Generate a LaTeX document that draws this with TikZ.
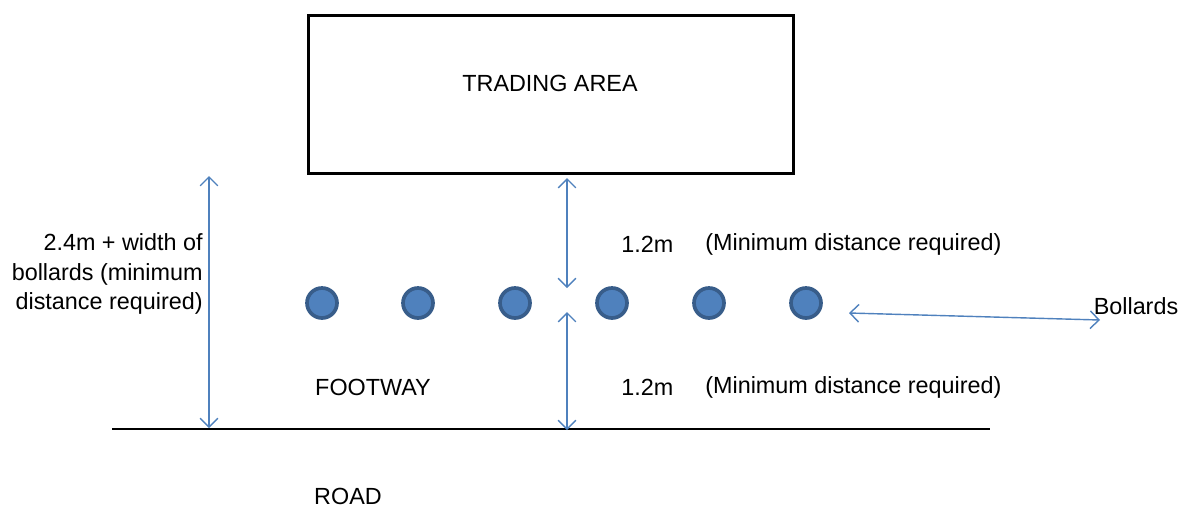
\documentclass[tikz,border=0pt]{standalone}
\usepackage{fontspec}
\setmainfont{Liberation Sans}
\usetikzlibrary{arrows.meta}
\definecolor{bollardfill}{HTML}{4F81BD}
\definecolor{bollardrim}{HTML}{385D8A}
\definecolor{dimblue}{HTML}{4F81BD}
\tikzset{
	txt/.style={inner sep=0pt, font=\fontsize{13.3}{17}\selectfont},
	bollard/.style={circle, fill=bollardfill, draw=bollardrim, line width=2.1pt, minimum size=0.6cm, inner sep=0pt},
	dim/.style={draw=dimblue, line width=0.8pt, {Straight Barb[length=5pt,width=10pt]}-{Straight Barb[length=5pt,width=10pt]}}
}
\begin{document}
\begin{tikzpicture}[x=0.02cm, y=-0.02cm]
	\useasboundingbox (0,0) rectangle (1187,508);
	
	%trading area
	\node[draw, line width=1.7pt, minimum width=9.7cm, minimum height=3.18cm, inner sep=0pt] (area) at (551,94.5){};
	\node[txt] (areatext) at (550,83){TRADING AREA};
	
	%road edge
	\coordinate (roadL) at (112,429);
	\coordinate (roadR) at (990,429);
	\draw[line width=1.1pt] (roadL) -- (roadR);
	\node[txt] (footway) at (373,387){FOOTWAY};
	\node[txt] (road) at (348,496){ROAD};
	
	%bollards
	\foreach \i/\x in {1/322, 2/418, 3/515, 4/612, 5/709, 6/806}{
		\node[bollard] (b\i) at (\x,303){};
	}
	
	%distances
	\coordinate (up1) at (567,178);
	\coordinate (up2) at (567,288);
	\coordinate (lo1) at (567,312);
	\coordinate (lo2) at (567,430);
	\draw[dim] (up1) -- (up2);
	\draw[dim] (lo1) -- (lo2);
	\node[txt, anchor=west] (upm) at (621,244){1.2m};
	\node[txt, anchor=west] (upreq) at (705,244){(Minimum distance required)};
	\node[txt, anchor=west] (lom) at (621,387){1.2m};
	\node[txt, anchor=west] (loreq) at (705,387){(Minimum distance required)};
	
	\coordinate (tot1) at (209,176);
	\coordinate (tot2) at (209,428);
	\draw[dim] (tot1) -- (tot2);
	\node[txt, anchor=east, align=right] (total) at (203,274){2.4m + width of\\bollards (minimum\\distance required)};
	
	%bollards label
	\node[txt] (blabel) at (1136,306){Bollards};
	\coordinate (bl1) at (849,313);
	\coordinate (bl2) at (1100,320);
	\draw[dim] (bl1) -- (bl2);
\end{tikzpicture}
\end{document}
